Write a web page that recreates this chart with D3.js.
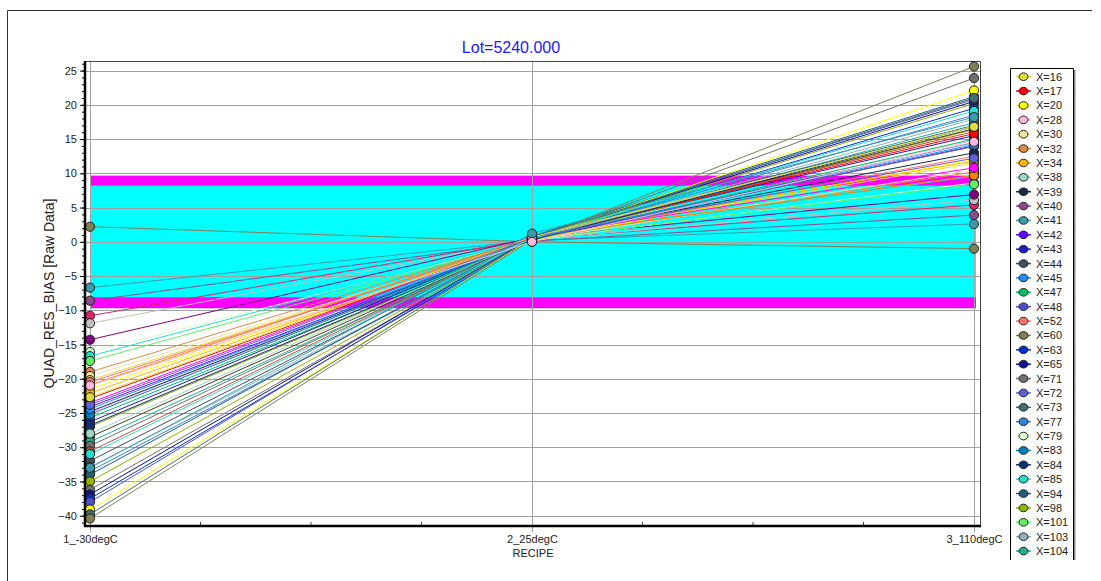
<!DOCTYPE html>
<html>
<head>
<meta charset="utf-8">
<script src="https://cdn.jsdelivr.net/npm/d3@7"></script>
<style>
  body { margin: 0; background: #fff; }
  text { font-family: Arial, "Liberation Sans", sans-serif; }
</style>
</head>
<body>
<div id="chart"></div>
<script>
// categories on the x axis
const recipes = ['1_-30degC', '2_25degC', '3_110degC'];

// legend series (the legend box is clipped, later series are hidden)
const seriesNames = ['X=16', 'X=17', 'X=20', 'X=28', 'X=30', 'X=32', 'X=34', 'X=38', 'X=39', 'X=40',
    'X=41', 'X=42', 'X=43', 'X=44', 'X=45', 'X=47', 'X=48', 'X=52', 'X=60', 'X=63', 'X=65', 'X=71',
    'X=72', 'X=73', 'X=77', 'X=79', 'X=83', 'X=84', 'X=85', 'X=94', 'X=98', 'X=101', 'X=103', 'X=104',
    'X=105', 'X=106', 'X=107', 'X=108', 'X=109', 'X=110', 'X=111'];

// one entry per drawn line: series, value at each recipe
const lineSeries = ['X=60', 'X=41', 'X=40', 'X=105', 'X=106', 'X=107', 'X=79', 'X=85', 'X=101', 'X=32',
    'X=30', 'X=16', 'X=108', 'X=20', 'X=34', 'X=52', 'X=109', 'X=42', 'X=28', 'X=47', 'X=43', 'X=98',
    'X=110', 'X=104', 'X=71', 'X=111', 'X=44', 'X=103', 'X=77', 'X=94', 'X=98', 'X=71', 'X=65', 'X=63',
    'X=48', 'X=20', 'X=73', 'X=60', 'X=39', 'X=17', 'X=83', 'X=84', 'X=45', 'X=38', 'X=85', 'X=72',
    'X=16', 'X=41', 'X=28'];
const valMinus30 = [2.2, -6.7, -8.6, -10.8, -11.9, -14.3, -16.1, -16.7, -17.4, -19.0,
    -19.6, -20.2, -20.9, -21.5, -22.1, -20.5, -23.5, -24.1, -25.0, -25.7, -26.3, -27.0,
    -28.5, -29.2, -29.8, -30.6, -32.0, -32.9, -33.5, -34.0, -35.0, -36.2, -36.9, -37.5,
    -38.0, -39.1, -39.8, -40.4, -24.8, -22.9, -25.2, -26.8, -24.4, -28.0, -31.0, -23.8,
    -22.7, -33.0, -21.0];
const val25 = [0.0, 0.2, 0.1, 0.4, 0.3, 0.6, 0.2, 0.5, 0.3, 0.5,
    0.2, 0.4, 0.7, 0.3, 0.6, 0.4, 0.8, 0.4, 0.5, 0.3, 0.6, 0.2,
    0.4, 0.3, 0.5, 0.6, 0.7, 0.3, 0.4, 0.8, 0.5, 0.4, 0.6, 0.3,
    0.7, 0.4, 0.6, 0.3, 0.5, 0.6, 0.4, 0.3, 0.5, 0.5, 0.5, 0.7,
    0.7, 1.2, 0.0];
const val110 = [-1.0, 2.6, 3.9, 5.4, 6.1, 6.9, 8.6, 9.6, 8.4, 10.2,
    10.5, 11.5, 9.7, 12.0, 11.8, 12.5, 10.8, 14.0, 14.8, 15.0, 15.5, 16.4,
    16.5, 17.4, 13.9, 16.1, 17.0, 17.9, 18.5, 21.2, 20.2, 23.9, 20.5, 19.5,
    20.8, 22.1, 21.0, 25.6, 13.0, 15.8, 14.5, 16.8, 14.2, 16.9, 19.1, 12.2,
    16.8, 18.2, 14.6];

// spec bands (lower, upper)
const cyanBand = [-9.7, 9.65];
const magentaBands = [[8.2, 9.65], [-9.7, -8.1]];

const yMajorTicks = d3.range(-40, 26, 5);

const palette = {
    'X=16': '#dede3a', 'X=17': '#ff0000', 'X=20': '#ffff00', 'X=28': '#ffb8dc', 'X=30': '#f4e4a0',
    'X=32': '#e08a44', 'X=34': '#ffb400', 'X=38': '#9cd8c0', 'X=39': '#18284c', 'X=40': '#8c4c8c',
    'X=41': '#3a9cac', 'X=42': '#6400ff', 'X=43': '#1c1cc4', 'X=44': '#3e5060', 'X=45': '#1e8cff',
    'X=47': '#00c060', 'X=48': '#5050d0', 'X=52': '#ff7070', 'X=60': '#808050', 'X=63': '#0030d0',
    'X=65': '#101090', 'X=71': '#707070', 'X=72': '#6060d8', 'X=73': '#407070', 'X=77': '#3080e0',
    'X=79': '#d4fccc', 'X=83': '#0080c0', 'X=84': '#103070', 'X=85': '#20e0d0', 'X=94': '#206080',
    'X=98': '#90b400', 'X=101': '#60f060', 'X=103': '#90b0c0', 'X=104': '#20b090',
    'X=105': '#e0206a', 'X=106': '#c0c0c0', 'X=107': '#800080', 'X=108': '#ff8000',
    'X=109': '#ff00ff', 'X=110': '#503820', 'X=111': '#c05040'
};

const W = 1101, H = 581;
const svg = d3.select('#chart').append('svg')
    .attr('width', W)
    .attr('height', H);

// outer frame
svg.append('path')
    .attr('d', 'M7.5,581 V10.5 H1092')
    .attr('fill', 'none')
    .attr('stroke', '#333');

const x = d3.scalePoint().domain(recipes).range([90, 974]);
const y = d3.scaleLinear().domain([-41.5, 26.4]).range([526, 61]);
const plotL = 85, plotR = 980, plotT = 61, plotB = 526;

// title
svg.append('text')
    .attr('x', 511).attr('y', 53)
    .attr('text-anchor', 'middle')
    .attr('font-size', 16)
    .attr('fill', '#1a1aff')
    .text('Lot=5240.000');

// bands
svg.append('rect')
    .attr('x', x(recipes[0])).attr('width', x(recipes[2]) + 2 - x(recipes[0]))
    .attr('y', y(cyanBand[1])).attr('height', y(cyanBand[0]) - y(cyanBand[1]))
    .attr('fill', '#00ffff');
svg.selectAll('.mband').data(magentaBands).enter().append('rect')
    .attr('class', 'mband')
    .attr('x', x(recipes[0])).attr('width', x(recipes[2]) + 2 - x(recipes[0]))
    .attr('y', (d) => y(d[1])).attr('height', (d) => y(d[0]) - y(d[1]))
    .attr('fill', '#ff00ff');

// grid
svg.selectAll('.hgrid').data(yMajorTicks).enter().append('line')
    .attr('x1', plotL).attr('x2', plotR)
    .attr('y1', (d) => Math.round(y(d)) + 0.5).attr('y2', (d) => Math.round(y(d)) + 0.5)
    .attr('stroke', '#a0a0a0');
svg.selectAll('.vgrid').data(recipes).enter().append('line')
    .attr('x1', (d) => x(d) + 0.5).attr('x2', (d) => x(d) + 0.5)
    .attr('y1', plotT).attr('y2', plotB + 6)
    .attr('stroke', '#a0a0a0');

// frame top / right
svg.append('path')
    .attr('d', `M${plotL},${plotT + 0.5} H${plotR + 0.5} V${plotB}`)
    .attr('fill', 'none')
    .attr('stroke', '#444');

// lines
const lines = lineSeries.map((s, i) => ({
    s: s,
    v: [valMinus30[i], val25[i], val110[i]]
}));
const lineGen = d3.line()
    .x((d, i) => x(recipes[i]))
    .y((d) => y(d));

svg.selectAll('.serie').data(lines).enter().append('path')
    .attr('d', (d) => lineGen(d.v))
    .attr('fill', 'none')
    .attr('stroke', (d) => palette[d.s])
    .attr('stroke-width', 1);

// points
recipes.forEach((r, k) => {
    svg.selectAll('.pt' + k).data(lines).enter().append('circle')
        .attr('cx', x(r))
        .attr('cy', (d) => y(d.v[k]))
        .attr('r', 4.6)
        .attr('fill', (d) => palette[d.s])
        .attr('stroke', '#222')
        .attr('stroke-width', 1);
});

// y axis
svg.append('g')
    .attr('transform', `translate(${plotL},0)`)
    .call(d3.axisLeft(y).tickValues(d3.range(-41, 27, 1)).tickSize(3).tickFormat(''))
    .call((g) => g.select('.domain').remove());
const yAx = svg.append('g')
    .attr('transform', `translate(${plotL},0)`)
    .call(d3.axisLeft(y).tickValues(yMajorTicks).tickSize(5).tickPadding(3));
yAx.select('.domain').remove();
yAx.selectAll('text').attr('font-size', 11).attr('fill', '#222')
    .style('font-family', 'Arial, "Liberation Sans", sans-serif');
svg.append('line')
    .attr('x1', plotL).attr('x2', plotL).attr('y1', plotT).attr('y2', plotB + 1)
    .attr('stroke', '#000').attr('stroke-width', 2.5);

// x axis
const xAx = svg.append('g')
    .attr('transform', `translate(0,${plotB})`)
    .call(d3.axisBottom(x).tickSize(0).tickPadding(9));
xAx.select('.domain').remove();
xAx.selectAll('text').attr('font-size', 11).attr('fill', '#222')
    .style('font-family', 'Arial, "Liberation Sans", sans-serif');
const minorX = [];
for (let i = 0; i < recipes.length - 1; i++) {
    for (let j = 1; j < 4; j++) {
        minorX.push(x(recipes[i]) + (x(recipes[i + 1]) - x(recipes[i])) * j / 4);
    }
}
svg.selectAll('.xminor').data(minorX).enter().append('line')
    .attr('x1', (d) => d).attr('x2', (d) => d)
    .attr('y1', plotB - 4).attr('y2', plotB)
    .attr('stroke', '#444');
svg.append('line')
    .attr('x1', plotL - 1).attr('x2', plotR + 1).attr('y1', plotB).attr('y2', plotB)
    .attr('stroke', '#000').attr('stroke-width', 2.5);

// axis titles
svg.append('text')
    .attr('x', 533).attr('y', 557)
    .attr('text-anchor', 'middle')
    .attr('font-size', 11).attr('fill', '#222')
    .text('RECIPE');
svg.append('text')
    .attr('transform', `translate(54,${(plotT + plotB) / 2}) rotate(-90)`)
    .attr('text-anchor', 'middle')
    .attr('font-size', 14).attr('fill', '#222')
    .text('QUAD_RES_BIAS [Raw Data]');

// legend (box runs off the bottom, only the entries that fit are drawn)
const legTop = 68, legStep = 14.375, legBottom = 560;
const leg = svg.append('g');
leg.append('path')
    .attr('d', `M1074.5,${legTop + 2} V${legBottom}`)
    .attr('stroke', '#888').attr('stroke-width', 2);
leg.append('path')
    .attr('d', `M1010.5,${legBottom} V${legTop + 0.5} H1073.5 V${legBottom}`)
    .attr('fill', '#fff').attr('stroke', '#000');
const shown = seriesNames.filter((d, i) => legTop + 8.7 + i * legStep + 6 < legBottom);
const item = leg.selectAll('.li').data(shown).enter().append('g')
    .attr('transform', (d, i) => `translate(0,${legTop + 8.7 + i * legStep})`);
item.append('line')
    .attr('x1', 1016).attr('x2', 1031)
    .attr('stroke', (d) => palette[d]).attr('stroke-width', 1.5);
item.append('ellipse')
    .attr('cx', 1023.5).attr('rx', 4.5).attr('ry', 3.8)
    .attr('fill', (d) => palette[d]).attr('stroke', '#222');
item.append('text')
    .attr('x', 1036).attr('y', 4)
    .attr('font-size', 11).attr('fill', '#222')
    .text((d) => d);
</script>
</body>
</html>
